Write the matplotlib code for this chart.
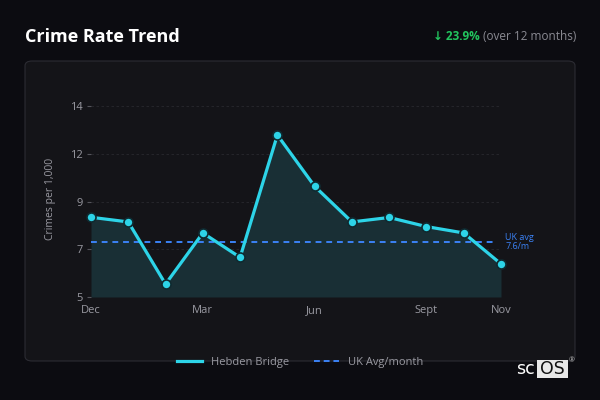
import matplotlib
matplotlib.use("Agg")
import matplotlib.pyplot as plt
from matplotlib.patches import FancyBboxPatch, Rectangle
from matplotlib.lines import Line2D

months = ["Dec", "Jan", "Feb", "Mar", "Apr", "May", "Jun", "Jul", "Aug", "Sept", "Oct", "Nov"]
rates = [8.76, 8.54, 5.61, 8.02, 6.87, 12.64, 10.22, 8.54, 8.75, 8.32, 8.02, 6.56]
uk_avg = 7.6
ytick_pos = [5, 7.25, 9.5, 11.75, 14]
ytick_labels = ["5", "7", "9", "12", "14"]
xtick_labels = ["Dec", "Mar", "Jun", "Sept", "Nov"]

plt.rcParams['font.family'] = ['Open Sans', 'DejaVu Sans']

BG = "#0c0c11"
CARD = "#141418"
CYAN = "#2dd4e8"
BLUE = "#3b82f6"
GRAY = "#9a9aa2"

fig = plt.figure(figsize=(6, 4), dpi=100)
fig.patch.set_facecolor(BG)

W, H = 600, 400
def fx(x): return x / W
def fy(y): return 1 - y / H

card = FancyBboxPatch((fx(25), fy(361)), fx(575) - fx(25), fy(61) - fy(361),
                      boxstyle="round,pad=0,rounding_size=0.012",
                      transform=fig.transFigure, facecolor=CARD,
                      edgecolor="#2c2c33", linewidth=0.8, zorder=-5)
fig.patches.append(card)

fig.text(fx(25), fy(37), "Crime Rate Trend", color="white", fontsize=13,
         fontweight="bold", va="center", ha="left")
t2 = fig.text(fx(576), fy(37), "(over 12 months)", color="#8a8a92", fontsize=8.5,
              va="center", ha="right")
fig.canvas.draw()
bb = t2.get_window_extent()
fig.text(bb.x0 / (W) - 0.004, fy(37), "↓ 23.9%", color="#22c55e", fontsize=8.5,
         fontweight="bold", va="center", ha="right")

ax = fig.add_axes([fx(91), fy(297), fx(501) - fx(91), (297 - 100) / H])
ax.set_zorder(2)
ax.set_facecolor("none")
x = list(range(len(months)))
ax.fill_between(x, rates, 5, color="#1a3137", alpha=0.95, zorder=1, linewidth=0)
ax.plot(x, rates, color=CYAN, linewidth=2.3, zorder=3, marker="o",
        markersize=6.5, markerfacecolor=CYAN, markeredgecolor="#0f2a30",
        markeredgewidth=1.2, label="Hebden Bridge", clip_on=False)
ax.plot([x[0], x[-1] - 0.1], [uk_avg, uk_avg], color=BLUE, linestyle=(0, (3, 2.5)),
        linewidth=1.4, zorder=2, label="UK Avg/month")
ax.text(x[-1] + 0.12, uk_avg, "UK avg\n7.6/m", color=BLUE, fontsize=6.5,
        va="center", ha="left", linespacing=1.1)

ax.set_xlim(0, 11)
ax.set_ylim(5, 14.29)
ax.set_yticks(ytick_pos)
ax.set_yticklabels(ytick_labels)
ax.set_xticks([months.index(m) for m in xtick_labels])
ax.set_xticklabels(xtick_labels)
for s in ax.spines.values():
    s.set_visible(False)
ax.tick_params(axis="y", colors="#55555c", labelcolor=GRAY, labelsize=8,
               length=3, width=0.8, pad=3)
ax.tick_params(axis="x", length=0, labelcolor=GRAY, labelsize=8, pad=6)
for yv in ytick_pos[1:]:
    ax.axhline(yv, color="#29292e", linestyle=(0, (3, 3)), linewidth=0.6, zorder=0.5)
ax.set_ylabel("Crimes per 1,000", color=GRAY, fontsize=7.5, labelpad=10)

handles = [Line2D([0], [0], color=CYAN, linewidth=2.3),
           Line2D([0], [0], color=BLUE, linewidth=1.4, linestyle=(0, (3, 2)))]
fig.legend(handles, ["Hebden Bridge", "UK Avg/month"], loc="center",
           bbox_to_anchor=(fx(300), fy(362)), ncol=2, frameon=False,
           fontsize=8, labelcolor=GRAY, handlelength=2.2, columnspacing=2.3,
           handletextpad=0.8)

# logo
fig.text(fx(516), fy(369), "sc", color="white", fontsize=12.5,
         va="center", ha="left", family="DejaVu Sans")
fig.patches.append(Rectangle((fx(537), fy(378)), fx(568) - fx(537), fy(360) - fy(378),
                             transform=fig.transFigure, facecolor="#e8e8e8",
                             edgecolor="none"))
fig.text(fx(552.5), fy(369), "OS", color="#111", fontsize=12.5, va="center",
         ha="center", family="DejaVu Sans")
fig.text(fx(569), fy(361), "®", color="#bbb", fontsize=5, va="center",
         ha="left")

fig.savefig("out.png", dpi=100, facecolor=BG)
